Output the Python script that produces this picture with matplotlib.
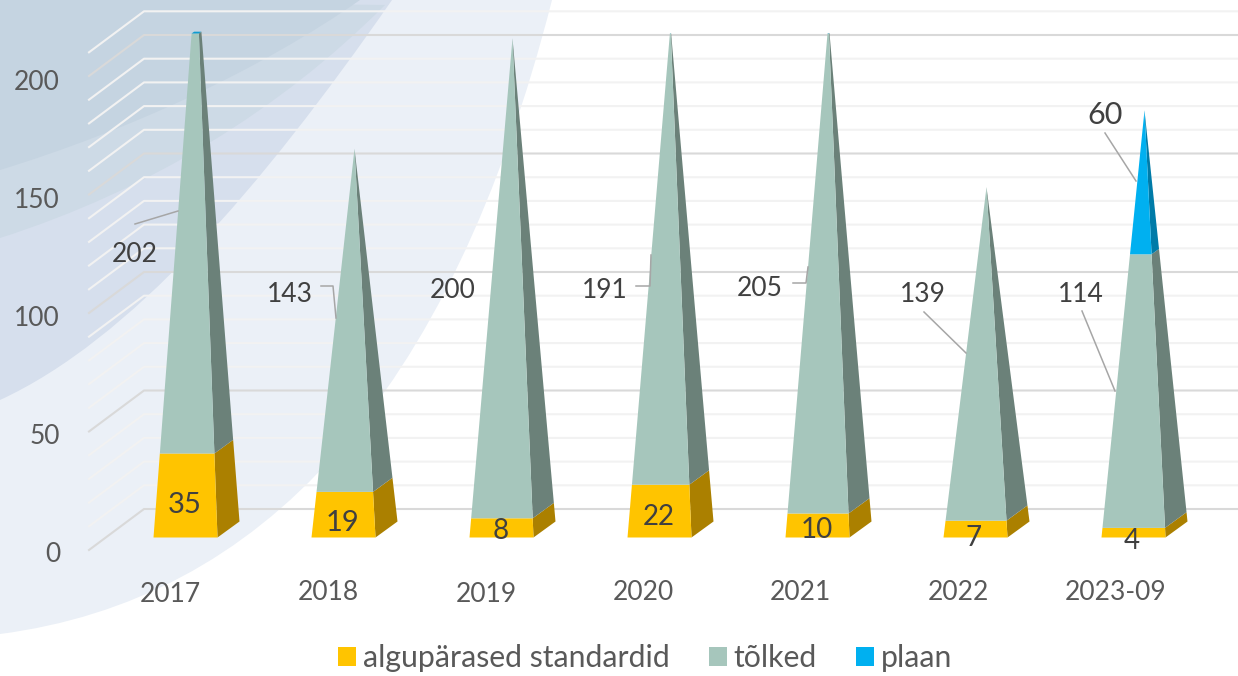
import numpy as np
from matplotlib import pyplot as plt
from matplotlib.patches import Patch, PathPatch, Polygon
from matplotlib.path import Path

years = ['2017', '2018', '2019', '2020', '2021', '2022', '2023-09']
original = [35, 19, 8, 22, 10, 7, 4]
translated = [202, 143, 200, 191, 205, 139, 114]
planned = [0, 0, 0, 0, 0, 0, 60]
series_names = ['algupärased standardid', 'tõlked', 'plaan']
y_ticks = [0, 50, 100, 150, 200]
y_max = 210

front_colors = ['#ffc400', '#a6c6bc', '#00b0f0']
side_colors = ['#ab8000', '#6b8179', '#007ba8']

W, H = 1238, 676
STEP = 158.0      # px per category
SCALE = 2.4       # px per unit, bars
GRID_SCALE = 2.37 # px per unit, back wall
X0, Y0 = 185.5, 537.5
HALF = 32 / STEP
DX = 22 / STEP
DY = 16 / SCALE

plt.rcParams['font.family'] = ['Lato', 'DejaVu Sans']
fig = plt.figure(figsize=(W / 100, H / 100), dpi=100, facecolor='white')


def full_axes(z):
    a = fig.add_axes([0, 0, 1, 1], zorder=z)
    a.axis('off')
    return a


# background swooshes, pixel coords
ax_bg = full_axes(0)
ax_bg.set_xlim(0, W)
ax_bg.set_ylim(H, 0)


def swoosh(p0, c1, c2, p1, color):
    verts = [p0, c1, c2, p1, (0, 0), p0]
    codes = [Path.MOVETO, Path.CURVE4, Path.CURVE4, Path.CURVE4, Path.LINETO, Path.CLOSEPOLY]
    ax_bg.add_patch(PathPatch(Path(verts, codes), fc=color, ec='none'))


swoosh((0, 634), (260, 600), (450, 400), (552, 0), '#ebf0f7')
swoosh((0, 400), (130, 340), (260, 190), (392, 0), '#d6dfed')
swoosh((0, 238), (150, 190), (280, 110), (385, 5), '#cddae6')
swoosh((0, 170), (130, 130), (260, 70), (360, 0), '#c5d4e1')

# chart, category / value coords
ax = full_axes(1)
ax.set_xlim(-X0 / STEP, (W - X0) / STEP)
ax.set_ylim(-(H - Y0) / SCALE, Y0 / SCALE)
ax.patch.set_alpha(0)

# wall and side grid
wall_x = (144 - X0) / STEP
side_x = (89 - X0) / STEP
for v in range(0, y_max + 1, 10):
    wall_y = (28.5 + v * GRID_SCALE) / SCALE
    side_y = wall_y - 41 / SCALE
    col = '#d9d9d9' if v % 50 == 0 else '#f2f2f2'
    ax.plot([side_x, wall_x, ax.get_xlim()[1]], [side_y, wall_y, wall_y], color=col, lw=1.5, zorder=1)


def level_points(i, total, v):
    # corners of the pyramid at height v, all edges run to the apex
    t = v / total
    apex_x = i + DX / 2
    fl = (i - HALF + (apex_x - i + HALF) * t, v)
    fr = (i + HALF + (apex_x - i - HALF) * t, v)
    br = (i + HALF + DX + (apex_x - i - HALF - DX) * t, DY + (total - DY) * t)
    return fl, fr, br


for i in range(len(years)):
    vals = [original[i], translated[i], planned[i]]
    total = sum(vals)
    low = 0
    for s in range(3):
        high = low + vals[s]
        if vals[s] > 0 and low < y_max:
            a = level_points(i, total, low)
            b = level_points(i, total, min(high, y_max))
            ax.add_patch(Polygon([a[1], a[2], b[2], b[1]], fc=side_colors[s], ec='none', zorder=3))
            ax.add_patch(Polygon([a[0], a[1], b[1], b[0]], fc=front_colors[s], ec='none', zorder=4))
        low = high
    if total > y_max:
        # cut top of the clipped pyramid
        c = level_points(i, total, y_max)
        back_left = (c[0][0] + c[2][0] - c[1][0], c[2][1])
        ax.add_patch(Polygon([c[0], c[1], c[2], back_left], fc='#0f9ccf', ec='none', zorder=5))

handles = [Patch(fc=c, ec='none') for c in front_colors]
ax.legend(handles, series_names, loc='center', bbox_to_anchor=(645 / W, 1 - 658 / H), ncol=3, frameon=False,
          fontsize=21.8, labelcolor='#595959', handlelength=0.6, handleheight=0.6, handletextpad=0.22,
          columnspacing=1.29, borderpad=0)

# texts and leader lines, pixel coords
ax_top = full_axes(2)
ax_top.set_xlim(0, W)
ax_top.set_ylim(H, 0)
ax_top.patch.set_alpha(0)

for v, py in zip(y_ticks, [554, 436, 318, 200, 82]):
    ax_top.text(60, py, str(v), ha='right', va='center', fontsize=19, color='#595959')

cat_pos = [(170, 595), (328, 592), (486, 595), (643, 593), (800, 593), (958, 593), (1116, 593)]
for name, p in zip(years, cat_pos):
    ax_top.text(p[0], p[1], name, ha='center', va='center', fontsize=19, color='#595959')

orig_pos = [(185, 505), (343, 523), (501, 531), (659, 517), (817, 530), (974, 538), (1132, 541)]
orig_size = [21, 21, 20, 20, 20, 20, 20]
for v, p, fs in zip(original, orig_pos, orig_size):
    ax_top.text(p[0], p[1], str(v), ha='center', va='center', fontsize=fs, color='#404040', zorder=6)

trans_pos = [(135, 254), (290, 294), (453, 291), (605, 291), (760, 289), (923, 294), (1081, 294)]
for v, p in zip(translated, trans_pos):
    ax_top.text(p[0], p[1], str(v), ha='center', va='center', fontsize=19, color='#404040')
ax_top.text(1105, 115, str(planned[6]), ha='center', va='center', fontsize=22, color='#404040')

leaders = [
    [(135, 224), (178, 211)],
    [(321, 286), (333, 286), (336, 318)],
    [(636, 286), (650, 286), (651, 255)],
    [(793, 283), (806, 283), (808, 267)],
    [(924, 312), (966, 353)],
    [(1082, 311), (1115, 391)],
    [(1105, 133), (1136, 181)],
]
for line in leaders:
    pts = np.array(line)
    ax_top.plot(pts[:, 0], pts[:, 1], color='#a6a6a6', lw=1.1)

fig.savefig('out.png', dpi=100)
